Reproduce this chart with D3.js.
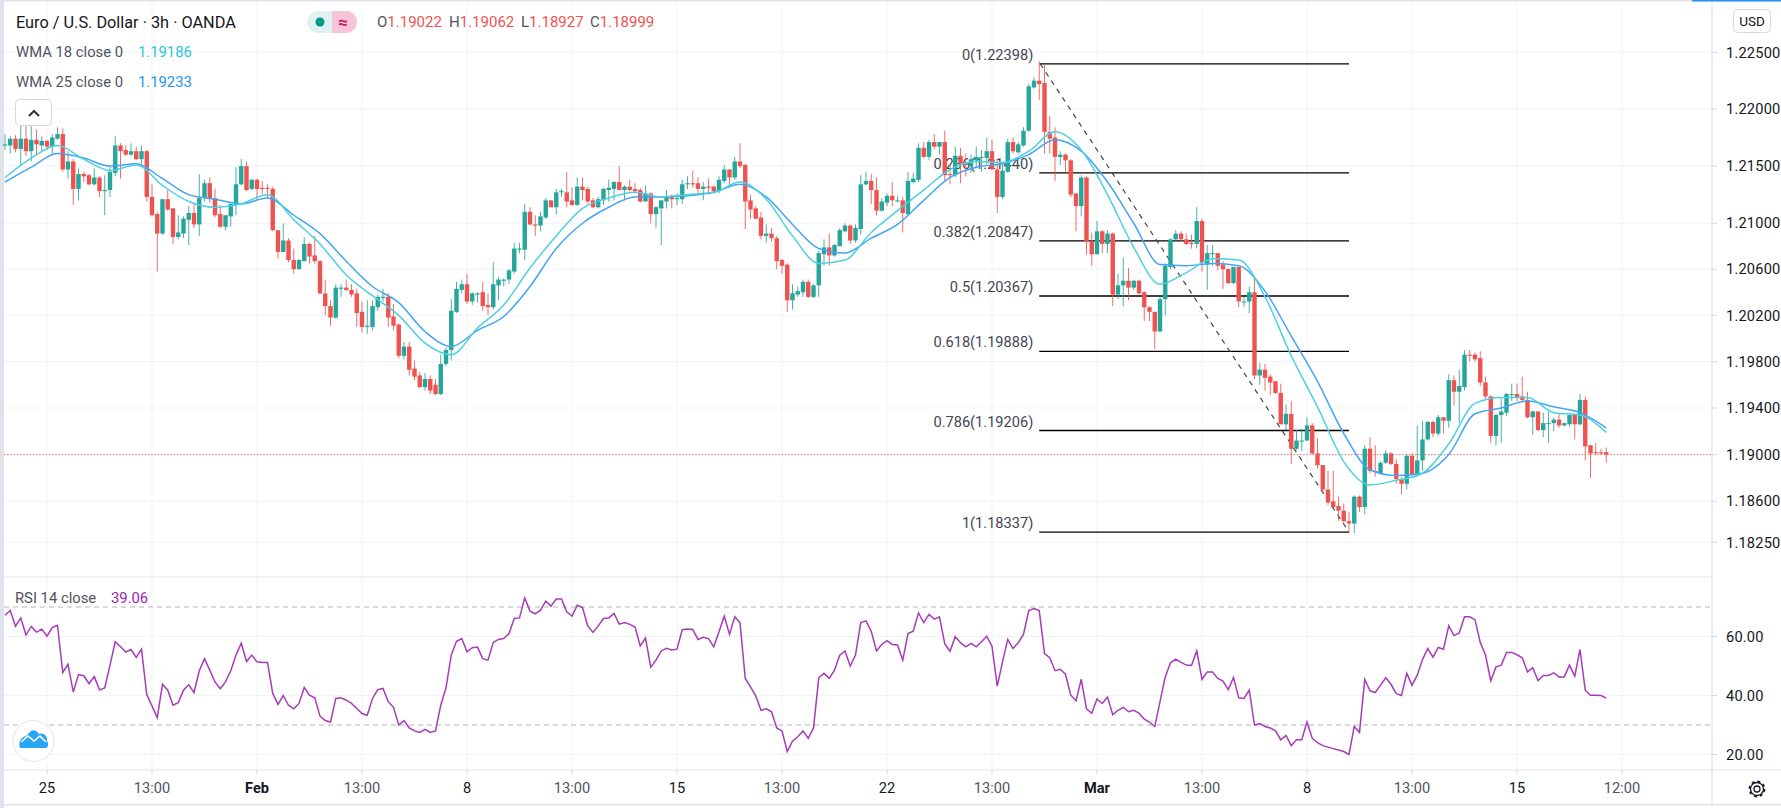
<!DOCTYPE html>
<html><head><meta charset="utf-8">
<script src="https://cdn.jsdelivr.net/npm/d3@7/dist/d3.min.js"></script>
<style>html,body{margin:0;padding:0;background:#fff}svg{display:block}text{font-family:Roboto,sans-serif}</style>
</head><body><svg id="c" width="1781" height="808"></svg>
<script>
// OHLC values are pips above BASE_PRICE, one per 3h bar
const BASE_PRICE = 1.2;
const opensPips = [168,168,174,165,174,163,173,168,172,167,174,178,147,154,130,143,142,134,140,128,129,144,168,164,160,163,156,163,123,108,91,121,113,88,91,103,109,99,122,135,122,108,97,106,116,134,150,130,138,131,131,130,94,75,85,68,60,67,82,72,67,39,28,18,43,44,42,39,23,10,10,27,35,36,19,12,-15,-7,-26,-32,-42,-35,-40,-48,-22,-10,23,42,47,32,38,40,29,27,46,50,51,58,77,77,110,99,98,105,120,114,127,127,120,116,132,130,120,114,120,129,130,136,129,132,130,129,119,126,108,113,119,123,121,121,134,135,135,130,132,132,128,137,147,140,154,151,120,113,105,89,91,87,68,64,33,38,40,49,36,46,73,79,72,80,93,98,85,95,134,137,129,111,118,124,120,120,108,136,138,166,158,171,167,171,143,142,159,152,150,155,158,157,163,147,123,145,171,162,168,181,219,225,223,180,175,158,160,155,126,115,140,84,73,93,82,91,38,46,50,44,50,40,27,23,6,34,62,86,91,86,83,82,102,64,73,74,64,60,48,62,32,32,40,-32,-27,-33,-37,-47,-74,-65,-95,-88,-88,-75,-99,-109,-130,-140,-144,-148,-157,-159,-136,-145,-95,-114,-116,-107,-99,-108,-121,-125,-101,-117,-105,-87,-72,-82,-68,-71,-36,-46,-42,-14,-14,-17,-38,-50,-84,-66,-64,-48,-48,-50,-53,-68,-63,-79,-73,-73,-70,-75,-74,-66,-74,-53,-92,-98,-98,-98];
const highsPips = [178,176,177,190,187,185,182,176,173,178,184,183,163,156,148,145,143,148,141,142,150,176,170,168,170,167,168,164,134,110,121,129,113,107,106,115,117,143,138,140,130,116,107,117,149,156,154,139,139,137,134,132,94,100,87,78,69,88,83,89,68,51,33,47,47,51,47,43,32,33,33,38,43,39,30,13,-3,-3,-19,-29,-30,-32,-35,-14,-8,34,49,51,56,40,40,49,39,66,53,52,60,83,83,117,114,107,110,122,120,130,130,145,131,140,140,132,122,123,131,138,137,150,133,138,135,131,133,127,115,120,129,125,126,138,141,146,140,136,139,133,141,151,147,158,170,152,125,115,110,99,96,89,69,65,47,45,51,51,47,76,86,91,82,96,100,99,99,142,145,143,140,122,126,136,124,123,145,144,170,171,173,178,171,181,152,167,166,161,160,167,164,175,173,154,152,174,175,171,184,222,228,242,239,194,184,163,161,156,126,142,141,92,102,94,94,92,56,70,61,51,51,41,28,23,36,65,87,94,93,91,90,114,104,81,81,74,67,61,62,62,36,45,54,-21,-22,-31,-37,-39,-57,-54,-79,-78,-68,-73,-86,-109,-114,-114,-136,-142,-149,-135,-135,-92,-85,-92,-106,-96,-98,-104,-119,-100,-99,-75,-71,-71,-71,-66,-68,-31,-32,-27,-10,-10,-12,-11,-33,-49,-65,-52,-47,-39,-39,-33,-46,-62,-63,-64,-63,-68,-65,-73,-66,-66,-48,-50,-92,-90,-95,-94];
const lowsPips = [164,161,162,151,159,154,160,163,164,160,173,145,139,116,120,136,133,133,123,107,123,141,139,159,159,155,152,119,106,58,90,111,82,86,87,81,96,89,119,118,105,96,94,97,107,133,128,129,120,125,122,93,69,75,66,56,60,67,65,65,38,20,11,17,36,41,36,10,5,4,7,24,32,10,7,-17,-18,-32,-36,-43,-45,-48,-49,-49,-24,-19,22,39,30,29,31,24,20,25,33,45,47,56,74,68,98,89,93,104,114,108,123,114,115,115,120,117,113,113,116,119,120,129,120,128,126,118,119,100,96,81,113,113,116,117,130,131,126,120,125,126,126,135,133,138,148,95,104,104,86,83,84,60,56,23,25,36,36,35,35,36,63,63,71,80,92,82,83,90,133,117,107,110,115,115,118,92,107,135,136,157,155,165,160,136,134,140,135,141,144,148,145,151,151,109,121,144,161,161,167,180,218,208,161,161,137,151,145,123,93,106,73,63,73,74,74,28,34,28,33,42,38,15,15,-9,6,20,60,85,84,81,78,78,58,42,63,59,43,47,47,27,27,22,-35,-40,-45,-49,-48,-74,-79,-108,-96,-97,-88,-100,-112,-132,-143,-146,-157,-158,-166,-167,-149,-151,-116,-119,-117,-108,-109,-125,-134,-130,-118,-119,-114,-88,-85,-84,-82,-77,-58,-73,-45,-20,-20,-41,-52,-90,-92,-90,-67,-54,-54,-54,-69,-83,-80,-85,-90,-80,-77,-76,-76,-87,-75,-105,-120,-100,-100,-107];
const closesPips = [169,174,165,174,163,173,169,172,167,175,178,147,154,130,143,141,134,140,128,129,145,168,163,160,163,156,163,123,107,91,121,112,88,92,104,109,99,122,135,122,107,97,107,117,134,150,129,138,130,130,130,94,75,85,68,60,68,82,71,67,39,28,18,44,44,42,38,22,10,11,28,36,36,18,11,-15,-7,-27,-33,-42,-35,-45,-48,-22,-10,24,43,47,32,39,39,28,27,47,51,51,59,78,78,110,99,98,106,120,114,127,128,119,116,132,129,119,114,121,130,131,136,129,132,129,128,119,126,108,114,120,123,121,122,134,135,134,130,132,131,128,138,147,140,154,150,119,112,104,89,91,87,67,63,33,39,41,49,36,46,74,79,72,81,94,98,85,96,134,137,129,111,119,124,120,120,109,137,139,166,158,171,167,171,142,142,159,152,151,156,158,158,163,147,123,146,171,163,169,181,220,225,222,180,174,158,160,155,125,115,140,84,73,93,82,91,38,46,50,44,50,39,27,23,6,34,63,86,91,86,82,82,102,66,74,74,63,60,48,62,32,32,40,-32,-27,-34,-38,-47,-74,-65,-95,-88,-88,-75,-99,-109,-130,-141,-145,-148,-157,-159,-136,-145,-95,-114,-115,-107,-99,-108,-121,-125,-101,-117,-105,-87,-72,-82,-68,-71,-36,-46,-41,-14,-15,-18,-38,-50,-84,-66,-63,-48,-48,-51,-53,-68,-63,-79,-73,-73,-70,-75,-73,-66,-74,-53,-93,-99,-99,-99,-100];
// WMA vertices, read every 5 bars
const wmaBars = [0,5,10,15,20,25,30,35,40,45,50,55,60,65,70,75,80,85,90,95,100,105,110,115,120,125,130,135,140,145,150,155,160,165,170,175,180,185,190,195,200,205,210,215,220,225,230,235,240,245,250,255,260,265,270,275,280,285,290,295,300,305];
const wma18Pips = [140,157,168,156,146,151,133,119,114,117,125,103,82,55,37,20,-4,-14,9,29,61,89,113,122,127,123,125,127,136,121,89,65,68,92,111,129,147,154,153,163,180,164,125,79,47,57,69,68,36,-15,-59,-106,-126,-122,-116,-91,-56,-51,-51,-64,-66,-81];
const wma25Pips = [136,149,161,157,150,152,139,125,121,117,122,107,91,67,45,31,6,-7,7,19,45,78,100,114,123,123,124,127,134,123,99,78,74,87,99,120,140,149,152,160,173,163,136,100,64,63,65,63,41,2,-37,-82,-113,-118,-116,-100,-65,-60,-54,-59,-64,-77];
const rsiValues = [67.2,68.8,63.5,66.3,60.5,63.4,61.5,62.5,60.1,63,63.8,47.8,50.6,41.2,47.1,46.7,44,46.4,41.9,42.6,50.3,58.2,56.5,54.7,55.6,52.9,55.7,40.3,36.5,32.5,43.8,41.8,36.7,37.6,41.8,43.7,41,48.4,52.5,48.6,44.6,42.3,44.6,48.4,53.7,57.7,51.5,53.7,51.4,51.2,51.2,40.7,37,40,36.7,35.5,37.3,42.7,40.1,39.2,33,31.5,31,39,39.2,38.4,37.3,35.6,33.9,33.3,39,42,42.4,37.9,36,30,31.5,29,28,27.5,28.5,27.5,28,36.7,42.6,53.7,58.4,59.3,54.8,56.2,56.4,52.5,52,58,59,59.3,61,66.1,66.3,73.1,68.6,67.7,68.9,72,70.3,72.7,72.7,68.4,66.9,70.6,69.8,63.6,61.4,63.6,66.1,66.3,67.8,64.2,64.7,64.1,63.2,56.8,59.5,49.6,52,55.1,56,55.4,55.7,62.3,62.5,62.4,59,59.7,59.3,56.5,61.6,66.9,60.7,66.7,64.7,45.8,42.9,39.9,35,35.5,34.5,29,28,21,24.5,26,28,25.5,29,46,47.5,45.8,48.6,53.7,55.1,50,53.7,64.7,65.3,61.8,55.1,57.3,58.6,57.3,57.1,52,61,61.8,68,64.7,67.5,65.9,66.7,57.6,55,59.9,57.9,56.5,57.7,56.5,58.2,60.1,56.7,43.2,51.4,59,55.9,57.9,60.7,68.8,69.5,68.8,54.2,52.8,48.4,48.9,47.2,40.1,38.2,45.5,35.5,34,38.8,37.3,39.5,33.5,35,36,34.5,35,34,32,31,29.5,37.9,46.3,51.1,52.3,51.2,50.3,50.2,55.1,45.5,48,48,45.8,44.9,42,46.1,39.2,39,41.8,30,30.5,29.5,29,28,25,26.5,23,25,25,31,25.5,24,23,22.5,22,21.5,21,20,29.5,27.5,45.5,41.6,41,43.5,46,43.8,40.6,40,47.5,43.5,46.9,52.2,55.9,53,56.3,55.7,63.6,60.3,61.2,66.7,66.7,65.7,58,53.7,45,49.7,50.3,54.6,54.6,53.8,52.8,48,49.4,45,46.8,46.8,47.7,46.3,46.3,50.3,46.6,55.6,41.8,40.1,40.1,40,39.1];
const priceTicks = [1.225,1.22,1.215,1.21,1.206,1.202,1.198,1.194,1.19,1.186,1.1825];
const rsiTicks = [60,40,20];
const rsiBands = [70,30];
const timeBars = [8,28,48,68,88,108,128,148,168,188,208,228,248,268,288,308];
const timeLabels = ["25","13:00","Feb","13:00","8","13:00","15","13:00","22","13:00","Mar","13:00","8","13:00","15","12:00"];
const fibRatios = ["0","0.236","0.382","0.5","0.618","0.786","1"];
const fibPrices = [1.22398,1.2144,1.20847,1.20367,1.19888,1.19206,1.18337];
const fibStartBar = 197, fibEndBar = 256;
const lastPrice = 1.18999;

const UP="#26a69a", DOWN="#ef5350", GRID="#f0f3fa", BORDER="#e0e3eb";
const toPrice = p => BASE_PRICE + p/10000;
const svg = d3.select("#c");
const x = d3.scaleLinear().domain([0,300]).range([5,1580]);
const y = d3.scaleLog().domain([1.225,1.1825]).range([52.3,542.3]);
const yr = d3.scaleLinear().domain([70,30]).range([607,725]);
const paneL=4, paneR=1712, paneT=2, sep=577, paneB=770;

// left & top chrome
svg.append("rect").attr("x",0).attr("y",0).attr("width",4).attr("height",808).attr("fill",BORDER);
svg.append("rect").attr("x",0).attr("y",0).attr("width",1781).attr("height",1.5).attr("fill",BORDER);
svg.append("rect").attr("x",1692).attr("y",0).attr("width",89).attr("height",1.5).attr("fill","#2196f3");
svg.append("rect").attr("x",0).attr("y",804).attr("width",1781).attr("height",1.5).attr("fill",BORDER);

// grid
const grid = svg.append("g").attr("stroke",GRID);
grid.selectAll(".v").data(timeBars).join("line").attr("x1",d=>x(d)).attr("x2",d=>x(d)).attr("y1",paneT).attr("y2",paneB);
grid.selectAll(".p").data(priceTicks).join("line").attr("x1",paneL).attr("x2",paneR).attr("y1",d=>y(d)).attr("y2",d=>y(d));
grid.selectAll(".r").data(rsiTicks).join("line").attr("x1",paneL).attr("x2",paneR).attr("y1",d=>yr(d)).attr("y2",d=>yr(d));

// panes borders
const bd = svg.append("g").attr("stroke",BORDER).attr("stroke-width",1.2);
bd.append("line").attr("x1",paneL).attr("x2",1781).attr("y1",paneB).attr("y2",paneB);
bd.append("line").attr("x1",paneL).attr("x2",paneR).attr("y1",sep).attr("y2",sep);
bd.append("line").attr("x1",paneR).attr("x2",paneR).attr("y1",paneT).attr("y2",804);

// axis ticks + labels
const ax = svg.append("g");
ax.selectAll(".pt").data(priceTicks).join("line").attr("x1",paneR).attr("x2",paneR+5).attr("y1",d=>y(d)).attr("y2",d=>y(d)).attr("stroke","#d6d9e0");
ax.selectAll(".pl").data(priceTicks).join("text").attr("x",1726).attr("y",d=>y(d)+5.2).attr("font-size",14.6).attr("letter-spacing",0.2).attr("fill","#131722").text(d=>d.toFixed(5));
ax.selectAll(".rt").data(rsiTicks).join("line").attr("x1",paneR).attr("x2",paneR+5).attr("y1",d=>yr(d)).attr("y2",d=>yr(d)).attr("stroke","#d6d9e0");
ax.selectAll(".rl").data(rsiTicks).join("text").attr("x",1726).attr("y",d=>yr(d)+5.2).attr("font-size",14.6).attr("letter-spacing",0.2).attr("fill","#131722").text(d=>d.toFixed(2));
ax.selectAll(".tt").data(timeBars).join("line").attr("x1",d=>x(d)).attr("x2",d=>x(d)).attr("y1",paneB).attr("y2",paneB+5).attr("stroke","#d6d9e0");
ax.selectAll(".tl").data(timeBars).join("text").attr("x",d=>x(d)).attr("y",793).attr("text-anchor","middle").attr("font-size",14.6)
  .attr("font-weight",(d,i)=>/Feb|Mar/.test(timeLabels[i])?700:400)
  .attr("fill",(d,i)=>/:/.test(timeLabels[i])?"#50535e":"#131722").text((d,i)=>timeLabels[i]);

// fib drawing (under the candles)
const fib = svg.append("g");
fib.selectAll("line").data(fibPrices).join("line").attr("x1",x(fibStartBar)).attr("x2",x(fibEndBar)).attr("y1",d=>y(d)).attr("y2",d=>y(d)).attr("stroke","#000").attr("stroke-width",1.4);
fib.selectAll("text").data(fibPrices).join("text").attr("x",x(fibStartBar)-6).attr("y",d=>y(d)-4).attr("text-anchor","end").attr("font-size",14.6).attr("fill","#434651")
  .text((d,i)=>fibRatios[i]+"("+d.toFixed(5)+")");
fib.append("line").attr("x1",x(fibStartBar)+1).attr("y1",y(fibPrices[0])).attr("x2",x(fibEndBar)).attr("y2",y(fibPrices[6])).attr("stroke","#444").attr("stroke-width",1.2).attr("stroke-dasharray","5 5");

// last price line
svg.append("line").attr("x1",paneL).attr("x2",paneR).attr("y1",y(lastPrice)).attr("y2",y(lastPrice)).attr("stroke",DOWN).attr("stroke-dasharray","1.2 2").attr("stroke-width",1);

// candles
const idx = d3.range(closesPips.length);
const col = i => closesPips[i]>=opensPips[i]?UP:DOWN;
const bw = 4.4;
svg.append("g").selectAll("rect").data(idx).join("rect").attr("x",i=>x(i)-0.5).attr("width",1)
  .attr("y",i=>y(toPrice(highsPips[i]))).attr("height",i=>y(toPrice(lowsPips[i]))-y(toPrice(highsPips[i]))).attr("fill",col).attr("opacity",0.85);
svg.append("g").selectAll("rect").data(idx).join("rect").attr("x",i=>x(i)-bw/2).attr("width",bw)
  .attr("y",i=>y(toPrice(Math.max(opensPips[i],closesPips[i])))).attr("height",i=>Math.max(1,Math.abs(y(toPrice(opensPips[i]))-y(toPrice(closesPips[i]))))).attr("fill",col);

// WMA lines
const wmaLine = vals => d3.line().x((d,i)=>x(wmaBars[i])).y(d=>y(toPrice(d))).curve(d3.curveMonotoneX)(vals);
svg.append("path").attr("d",wmaLine(wma25Pips)).attr("fill","none").attr("stroke","#42a5f5").attr("stroke-width",1.5);
svg.append("path").attr("d",wmaLine(wma18Pips)).attr("fill","none").attr("stroke","#4dd0e1").attr("stroke-width",1.5);

// RSI
svg.append("g").selectAll("line").data(rsiBands).join("line").attr("x1",paneL).attr("x2",paneR).attr("y1",d=>yr(d)).attr("y2",d=>yr(d)).attr("stroke","#b2b5be").attr("stroke-dasharray","5 4");
svg.append("path").attr("d",d3.line().x((d,i)=>x(i)).y(d=>yr(d))(rsiValues)).attr("fill","none").attr("stroke","#9c27b0").attr("stroke-opacity",0.9).attr("stroke-width",1.5);

// legend
const lg = svg.append("g");
lg.append("text").attr("x",16).attr("y",28).attr("font-size",16.3).attr("fill","#131722").text("Euro / U.S. Dollar · 3h · OANDA");
lg.append("path").attr("d","M318,11H332V33H318A11,11 0 0 1 318,11Z").attr("fill","#dff1f0");
lg.append("path").attr("d","M332,11H346A11,11 0 0 1 346,33H332Z").attr("fill","#f8c5d8");
lg.append("circle").attr("cx",320).attr("cy",22).attr("r",4.5).attr("fill","#009688");
lg.append("text").attr("x",343).attr("y",28).attr("text-anchor","middle").attr("font-size",17).attr("font-weight",700).attr("fill","#c2185b").text("≈");
const ohlcLegend = [["O","1.19022",377],["H","1.19062",449],["L","1.18927",521],["C","1.18999",590]];
ohlcLegend.forEach(([k,v,px])=>{
  const t=lg.append("text").attr("x",px).attr("y",27).attr("font-size",15);
  t.append("tspan").attr("fill","#50535e").text(k);
  t.append("tspan").attr("fill",DOWN).text(v);
});
const wmaLegend=[["WMA 18 close 0","1.19186","#26c6da",57],["WMA 25 close 0","1.19233","#2196f3",87]];
wmaLegend.forEach(([k,v,c,py])=>{
  lg.append("text").attr("x",16).attr("y",py).attr("font-size",14.8).attr("fill","#50535e").text(k);
  lg.append("text").attr("x",138).attr("y",py).attr("font-size",14.8).attr("fill",c).text(v);
});
lg.append("rect").attr("x",15.5).attr("y",99.5).attr("width",36).attr("height",26).attr("rx",4).attr("fill","#fff").attr("stroke","#d6d9e0");
lg.append("path").attr("d","M29,116L34,111L39,116").attr("fill","none").attr("stroke","#333").attr("stroke-width",2);
lg.append("text").attr("x",15).attr("y",603).attr("font-size",14.8).attr("fill","#50535e").text("RSI 14 close");
lg.append("text").attr("x",111).attr("y",603).attr("font-size",14.8).attr("fill","#9c27b0").text("39.06");

// USD box
svg.append("rect").attr("x",1733.5).attr("y",9.5).attr("width",37).attr("height",23).attr("rx",4).attr("fill","#fff").attr("stroke","#d6d9e0");
svg.append("text").attr("x",1752).attr("y",26).attr("text-anchor","middle").attr("font-size",13.5).attr("fill","#131722").text("USD");

// logo
svg.append("circle").attr("cx",33.5).attr("cy",741).attr("r",20.5).attr("fill","#fff").attr("stroke",BORDER);
svg.append("path").attr("d","M20,748C18,742 21,737 26,736L31,731C34,729 37,731 39,734C43,732 48,736 47,741C49,744 48,748 46,748Z").attr("fill","#2aa5f5");
svg.append("path").attr("d","M21,742L28,736L34,741L40,736L46,742").attr("fill","none").attr("stroke","#fff").attr("stroke-width",1.6);

// gear
const g = svg.append("g").attr("transform","translate(1757,789)");
g.append("circle").attr("r",3).attr("fill","none").attr("stroke","#131722").attr("stroke-width",1.3);
g.append("circle").attr("r",6.5).attr("fill","none").attr("stroke","#131722").attr("stroke-width",1.3);
g.append("circle").attr("r",7.6).attr("fill","none").attr("stroke","#131722").attr("stroke-width",1.6).attr("stroke-dasharray","3 3");
</script></body></html>
